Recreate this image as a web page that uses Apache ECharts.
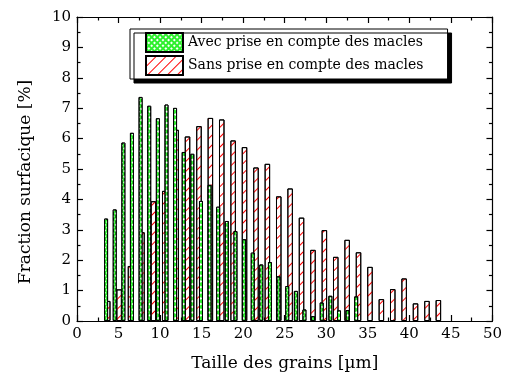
<!DOCTYPE html>
<html>
<head>
<meta charset="utf-8">
<script src="https://cdn.jsdelivr.net/npm/echarts@6/dist/echarts.min.js"></script>
<style>html,body{margin:0;padding:0;background:#fff}#c{width:505px;height:380px}</style>
</head>
<body>
<div id="c"></div>
<script>
// Bin centres (µm) and surface fractions (%)
const greenName = 'Avec prise en compte des macles';
const redName = 'Sans prise en compte des macles';
const greenX = [3.50, 4.54, 5.58, 6.61, 7.65, 8.69, 9.73, 10.77, 11.80, 12.84, 13.88, 14.92, 15.96, 16.99, 18.03, 19.07, 20.11, 21.15, 22.18, 23.22, 24.26, 25.30, 26.34, 27.37, 28.41, 29.45, 30.49, 31.53, 32.56, 33.60];
const greenY = [3.37, 3.67, 5.87, 6.19, 7.37, 7.08, 6.67, 7.12, 7.01, 5.56, 5.50, 3.95, 4.48, 3.76, 3.29, 2.96, 2.69, 2.25, 1.86, 1.94, 1.47, 1.15, 0.99, 0.38, 0.16, 0.61, 0.83, 0.35, 0.36, 0.81];
const redX = [3.70, 5.07, 6.44, 7.82, 9.19, 10.56, 11.93, 13.30, 14.68, 16.05, 17.42, 18.79, 20.16, 21.54, 22.91, 24.28, 25.65, 27.02, 28.40, 29.77, 31.14, 32.51, 33.88, 35.26, 36.63, 38.00, 39.37, 40.74, 42.12, 43.49];
const redY = [0.66, 1.04, 1.81, 2.92, 3.94, 4.28, 6.29, 6.07, 6.41, 6.68, 6.63, 5.94, 5.72, 5.05, 5.17, 4.10, 4.36, 3.40, 2.34, 2.99, 2.11, 2.67, 2.26, 1.78, 0.72, 1.05, 1.40, 0.58, 0.66, 0.69];
const xTicks = [0, 50, 5];
const yTicks = [0, 10, 1];

const FONT = 'DejaVu Serif';
const chart = echarts.init(document.getElementById('c'), null, {renderer: 'canvas'});

function xAxisDef(pos, labels) {
  return {
    type: 'value', position: pos, min: xTicks[0], max: xTicks[1], interval: xTicks[2],
    axisLine: {show: true, onZero: false, lineStyle: {color: '#000', width: 1.2}},
    axisTick: {show: true, inside: true, length: 6, lineStyle: {color: '#000', width: 1.2}},
    minorTick: {show: true, splitNumber: 2, length: 3.5, lineStyle: {color: '#000', width: 1.2}},
    axisLabel: {show: labels, color: '#000', fontFamily: FONT, fontSize: 15, margin: 6},
    splitLine: {show: false},
    name: labels ? 'Taille des grains [µm]' : '',
    nameLocation: 'middle', nameGap: 34,
    nameTextStyle: {color: '#000', fontFamily: FONT, fontSize: 17}
  };
}
function yAxisDef(pos, labels) {
  return {
    type: 'value', position: pos, min: yTicks[0], max: yTicks[1], interval: yTicks[2],
    axisLine: {show: true, onZero: false, lineStyle: {color: '#000', width: 1.2}},
    axisTick: {show: true, inside: true, length: 6, lineStyle: {color: '#000', width: 1.2}},
    minorTick: {show: true, splitNumber: 2, length: 3.5, lineStyle: {color: '#000', width: 1.2}},
    axisLabel: {show: labels, color: '#000', fontFamily: FONT, fontSize: 15, margin: 6},
    splitLine: {show: false}
  };
}

chart.setOption({
  animation: false,
  backgroundColor: '#fff',
  grid: {left: 77, right: 9, top: 17, bottom: 59, containLabel: false},
  xAxis: [xAxisDef('bottom', true), xAxisDef('top', false)],
  yAxis: [yAxisDef('left', true), yAxisDef('right', false)],
  legend: {
    orient: 'vertical', left: 130, top: 29, icon: 'rect',
    itemWidth: 37, itemHeight: 19, itemGap: 2,
    padding: [3, 24, 3, 15],
    backgroundColor: '#fff', borderColor: '#000', borderWidth: 1,
    shadowColor: '#000', shadowBlur: 0, shadowOffsetX: 4, shadowOffsetY: 4,
    textStyle: {color: '#000', fontFamily: FONT, fontSize: 14},
    data: [greenName, redName]
  },
  graphic: [{
    type: 'text', x: 26, y: 182, rotation: Math.PI / 2,
    style: {text: 'Fraction surfacique [%]', fill: '#000', font: '17px "DejaVu Serif"', align: 'center', verticalAlign: 'middle'}
  }],
  series: [
    {
      name: redName, type: 'bar', xAxisIndex: 1, yAxisIndex: 0, barWidth: 5.5, z: 2,
      data: redX.map((x, i) => [x, redY[i]]),
      itemStyle: {
        color: '#fff', borderColor: '#000', borderWidth: 1,
        decal: {symbol: 'rect', color: '#ff0000', dashArrayX: [1, 0], dashArrayY: [1, 6], rotation: -Math.PI / 4, symbolSize: 1}
      }
    },
    {
      name: greenName, type: 'bar', xAxisIndex: 0, yAxisIndex: 0, barWidth: 4, z: 3,
      data: greenX.map((x, i) => [x, greenY[i]]),
      itemStyle: {
        color: '#2ef02e', borderColor: '#000', borderWidth: 1,
        decal: {symbol: 'rect', color: '#ffffff', dashArrayX: [1.5, 1.5], dashArrayY: [1.5, 1.5], rotation: Math.PI / 4, symbolSize: 1}
      }
    }
  ]
});
</script>
</body>
</html>
